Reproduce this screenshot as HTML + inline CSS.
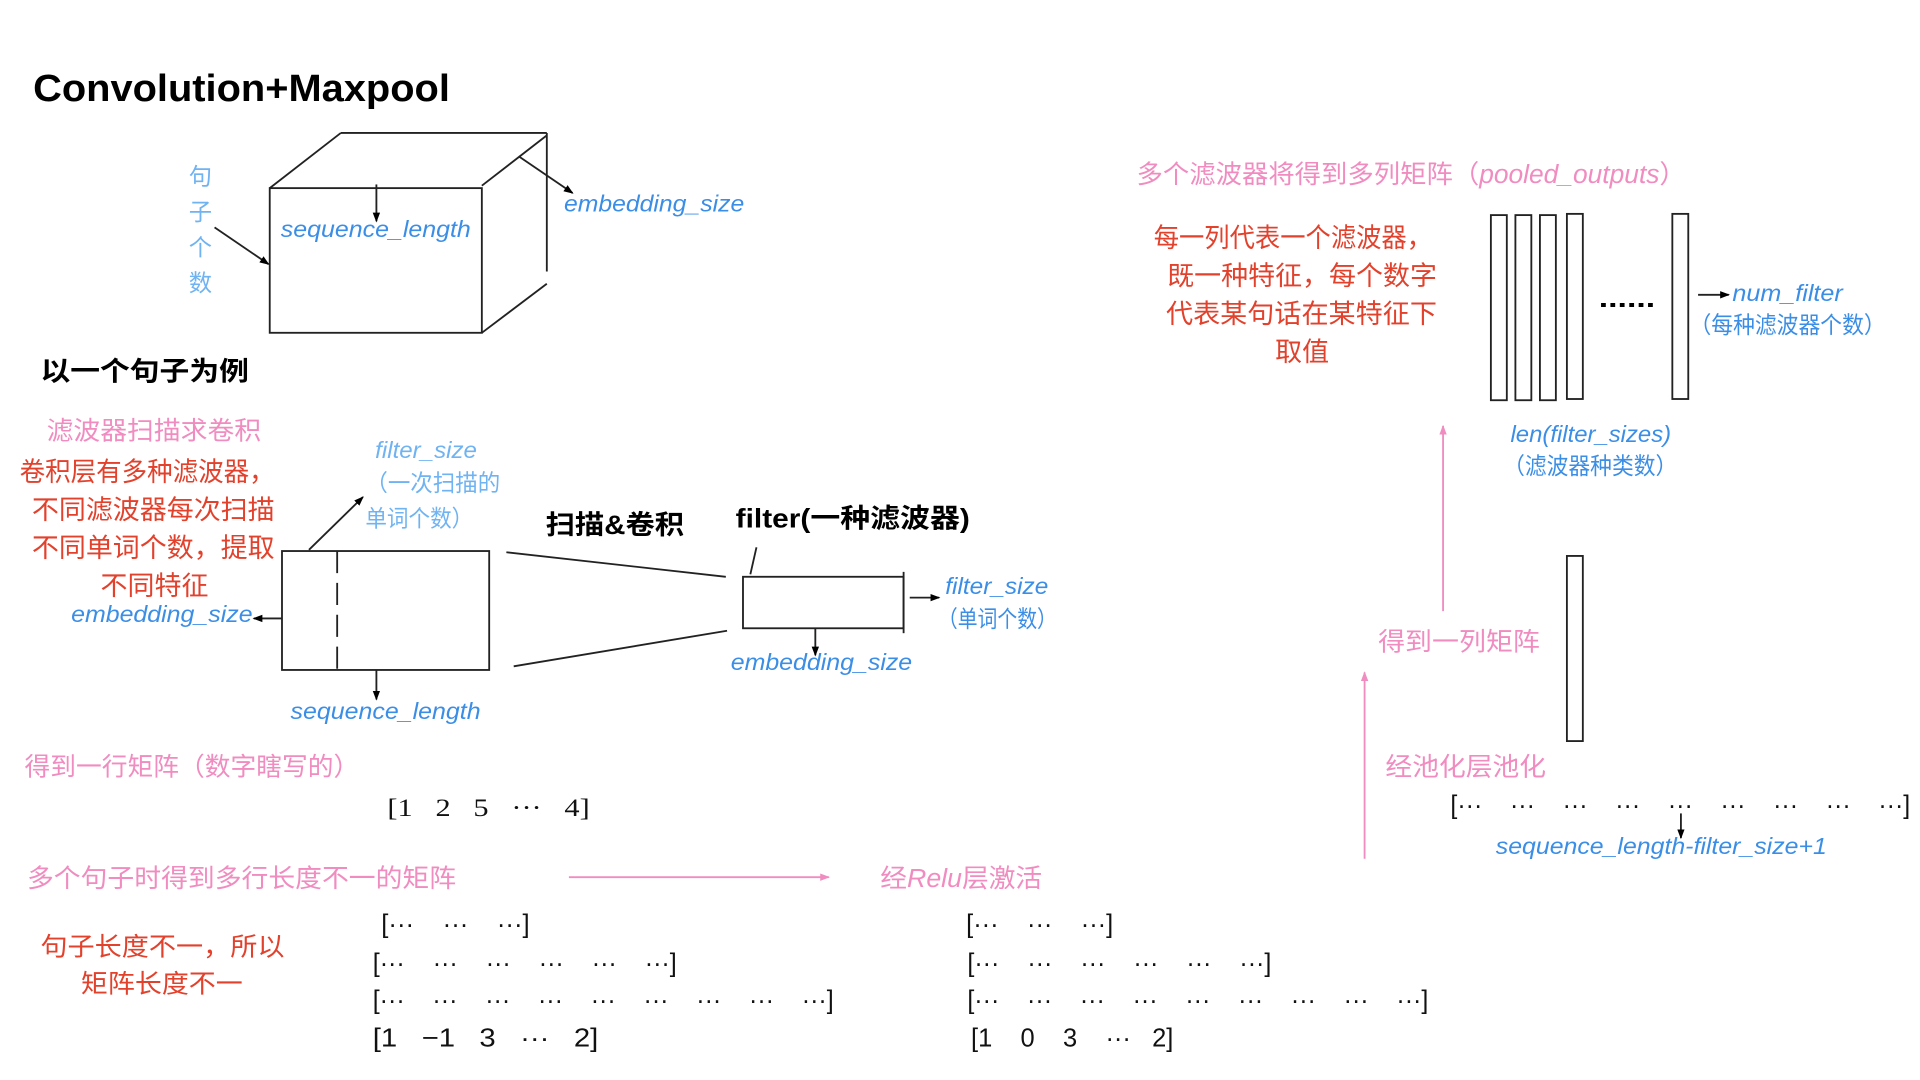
<!DOCTYPE html>
<html><head><meta charset="utf-8"><style>
html,body{margin:0;padding:0;background:#fff;width:1920px;height:1080px;overflow:hidden}
svg{display:block}
text{font-family:"Liberation Sans","Noto Sans CJK SC",sans-serif}
.b{fill:#3b8ee6}
.i{font-style:italic}
.lb{fill:#6fb3f2}
.p{fill:#f08cc0}
.r{fill:#e2412c}
.m{font-family:"Liberation Serif",serif;font-size:21px;fill:#111}
</style></head><body>
<svg width="1920" height="1080" viewBox="0 0 1566 880" xmlns="http://www.w3.org/2000/svg">
<defs>
<marker id="a" markerWidth="8" markerHeight="8" refX="7" refY="4" orient="auto" markerUnits="userSpaceOnUse"><path d="M0,1 L8,4 L0,7 z" fill="#000"/></marker>
<marker id="ap" markerWidth="8" markerHeight="8" refX="7" refY="4" orient="auto" markerUnits="userSpaceOnUse"><path d="M0,1 L8,4 L0,7 z" fill="#f08cc0"/></marker>
</defs>
<g stroke="#222" stroke-width="1.5" fill="none">
<rect x="220" y="153" width="173" height="118"/>
<line x1="278" y1="108" x2="446" y2="108"/>
<line x1="220" y1="153" x2="278" y2="108"/>
<line x1="393" y1="151" x2="446" y2="110"/>
<line x1="446" y1="108" x2="446" y2="221"/>
<line x1="393" y1="271" x2="446" y2="231"/>
<line x1="307" y1="150" x2="307" y2="180" marker-end="url(#a)"/>
<line x1="423" y1="127" x2="467" y2="157" marker-end="url(#a)"/>
<line x1="175" y1="185" x2="219" y2="215" marker-end="url(#a)"/>
<rect x="230" y="449" width="169" height="97"/>
<line x1="275" y1="449" x2="275" y2="550" stroke-dasharray="18,8"/>
<line x1="230" y1="504" x2="207" y2="504" marker-end="url(#a)"/>
<line x1="307" y1="546" x2="307" y2="570" marker-end="url(#a)"/>
<line x1="252" y1="448" x2="296" y2="405" marker-end="url(#a)"/>
<line x1="413" y1="450" x2="592" y2="470"/>
<line x1="419" y1="543" x2="593" y2="514"/>
<line x1="617" y1="446" x2="612" y2="468"/>
<rect x="606" y="470" width="131" height="42"/>
<line x1="737" y1="466" x2="737" y2="516"/>
<line x1="742" y1="487" x2="766" y2="487" marker-end="url(#a)"/>
<line x1="665" y1="512" x2="665" y2="534" marker-end="url(#a)"/>
<rect x="1216" y="175" width="13" height="151"/>
<rect x="1236" y="175" width="13" height="151"/>
<rect x="1256" y="175" width="13" height="151"/>
<rect x="1278" y="174" width="13" height="151"/>
<rect x="1364" y="174" width="13" height="151"/>
<rect x="1278" y="453" width="13" height="151"/>
<line x1="1385" y1="240" x2="1410" y2="240" marker-end="url(#a)"/>
<line x1="1371" y1="663" x2="1371" y2="683" marker-end="url(#a)"/>
</g>
<g stroke="#f08cc0" stroke-width="1.5">
<line x1="464" y1="715" x2="676" y2="715" marker-end="url(#ap)"/>
<line x1="1113" y1="700" x2="1113" y2="548" marker-end="url(#ap)"/>
<line x1="1177" y1="498" x2="1177" y2="347" marker-end="url(#ap)"/>
</g>
<g lengthAdjust="spacingAndGlyphs">
<text x="27" y="82" font-size="31" font-weight="bold" textLength="340" lengthAdjust="spacingAndGlyphs">Convolution+Maxpool</text>
<text x="229" y="193" font-size="19" class="b i" textLength="155" lengthAdjust="spacingAndGlyphs">sequence_length</text>
<text x="460" y="172" font-size="19" class="b i" textLength="147" lengthAdjust="spacingAndGlyphs">embedding_size</text>
<g class="lb" font-size="19"><text x="154" y="150">句</text><text x="154" y="179">子</text><text x="154" y="208">个</text><text x="154" y="237">数</text></g>
<text x="33" y="310" font-size="22" font-weight="bold" textLength="170" lengthAdjust="spacingAndGlyphs">以一个句子为例</text>
<text x="38" y="358" font-size="21" class="p" textLength="175" lengthAdjust="spacingAndGlyphs">滤波器扫描求卷积</text>
<g class="r" font-size="22">
<text x="16" y="392" textLength="208" lengthAdjust="spacingAndGlyphs">卷积层有多种滤波器，</text>
<text x="26" y="423" textLength="198" lengthAdjust="spacingAndGlyphs">不同滤波器每次扫描</text>
<text x="26" y="454" textLength="198" lengthAdjust="spacingAndGlyphs">不同单词个数，提取</text>
<text x="82" y="485" textLength="88" lengthAdjust="spacingAndGlyphs">不同特征</text>
</g>
<text x="58" y="507" font-size="19" class="b i" textLength="148" lengthAdjust="spacingAndGlyphs">embedding_size</text>
<text x="237" y="586" font-size="19" class="b i" textLength="155" lengthAdjust="spacingAndGlyphs">sequence_length</text>
<text x="306" y="373" font-size="19" class="lb i" textLength="83" lengthAdjust="spacingAndGlyphs">filter_size</text>
<text x="298" y="400" font-size="19" class="lb" textLength="110" lengthAdjust="spacingAndGlyphs">（一次扫描的</text>
<text x="298" y="429" font-size="19" class="lb" textLength="88" lengthAdjust="spacingAndGlyphs">单词个数）</text>
<text x="445" y="435" font-size="22" font-weight="bold" textLength="113" lengthAdjust="spacingAndGlyphs">扫描&amp;卷积</text>
<text x="600" y="430" font-size="22" font-weight="bold" textLength="191" lengthAdjust="spacingAndGlyphs">filter(一种滤波器)</text>
<text x="771" y="484" font-size="19" class="b i" textLength="84" lengthAdjust="spacingAndGlyphs">filter_size</text>
<text x="765" y="511" font-size="19" class="b" textLength="97" lengthAdjust="spacingAndGlyphs">（单词个数）</text>
<text x="596" y="546" font-size="19" class="b i" textLength="148" lengthAdjust="spacingAndGlyphs">embedding_size</text>
<text x="20" y="632" font-size="21" class="p" textLength="273" lengthAdjust="spacingAndGlyphs">得到一行矩阵（数字瞎写的）</text>
<text x="316" y="665" class="m" xml:space="preserve" textLength="165" lengthAdjust="spacingAndGlyphs">[1   2   5   ···   4]</text>
<text x="22" y="723" font-size="21" class="p" textLength="350" lengthAdjust="spacingAndGlyphs">多个句子时得到多行长度不一的矩阵</text>
<text x="718" y="723" font-size="21" class="p" textLength="132" lengthAdjust="spacingAndGlyphs">经<tspan font-style="italic">Relu</tspan>层激活</text>
<text x="33" y="779" font-size="21" class="r" textLength="199" lengthAdjust="spacingAndGlyphs">句子长度不一，所以</text>
<text x="66" y="809" font-size="21" class="r" textLength="132" lengthAdjust="spacingAndGlyphs">矩阵长度不一</text>
<g class="m">
<text x="311" y="760" xml:space="preserve" textLength="121" lengthAdjust="spacingAndGlyphs">[···    ···    ···]</text>
<text x="304" y="792" xml:space="preserve" textLength="248" lengthAdjust="spacingAndGlyphs">[···    ···    ···    ···    ···    ···]</text>
<text x="304" y="822" xml:space="preserve" textLength="376" lengthAdjust="spacingAndGlyphs">[···    ···    ···    ···    ···    ···    ···    ···    ···]</text>
<text x="304" y="853" xml:space="preserve" textLength="184" lengthAdjust="spacingAndGlyphs">[1   −1   3   ···   2]</text>
<text x="788" y="760" xml:space="preserve" textLength="120" lengthAdjust="spacingAndGlyphs">[···    ···    ···]</text>
<text x="789" y="792" xml:space="preserve" textLength="248" lengthAdjust="spacingAndGlyphs">[···    ···    ···    ···    ···    ···]</text>
<text x="789" y="822" xml:space="preserve" textLength="376" lengthAdjust="spacingAndGlyphs">[···    ···    ···    ···    ···    ···    ···    ···    ···]</text>
<text x="792" y="853" xml:space="preserve" textLength="165" lengthAdjust="spacingAndGlyphs">[1    0    3    ···   2]</text>
<text x="1183" y="663" xml:space="preserve" textLength="375" lengthAdjust="spacingAndGlyphs">[···    ···    ···    ···    ···    ···    ···    ···    ···]</text>
</g>
<text x="1124" y="530" font-size="21" class="p" textLength="132" lengthAdjust="spacingAndGlyphs">得到一列矩阵</text>
<text x="1130" y="632" font-size="21" class="p" textLength="131" lengthAdjust="spacingAndGlyphs">经池化层池化</text>
<text x="1220" y="696" font-size="19" class="b i" textLength="270" lengthAdjust="spacingAndGlyphs">sequence_length-filter_size+1</text>
<text x="927" y="149" font-size="21" class="p" textLength="448" lengthAdjust="spacingAndGlyphs">多个滤波器将得到多列矩阵（<tspan font-style="italic">pooled_outputs</tspan>）</text>
<g class="r" font-size="22">
<text x="941" y="201" textLength="227" lengthAdjust="spacingAndGlyphs">每一列代表一个滤波器，</text>
<text x="952" y="232" textLength="220" lengthAdjust="spacingAndGlyphs">既一种特征，每个数字</text>
<text x="951" y="263" textLength="221" lengthAdjust="spacingAndGlyphs">代表某句话在某特征下</text>
<text x="1040" y="294" textLength="44" lengthAdjust="spacingAndGlyphs">取值</text>
</g>
<text x="1304" y="250" font-size="22" font-weight="bold" textLength="46" lengthAdjust="spacingAndGlyphs">......</text>
<text x="1413" y="245" font-size="19" class="b i" textLength="90" lengthAdjust="spacingAndGlyphs">num_filter</text>
<text x="1378" y="271" font-size="19" class="b" textLength="160" lengthAdjust="spacingAndGlyphs">（每种滤波器个数）</text>
<text x="1232" y="360" font-size="19" class="b i" textLength="131" lengthAdjust="spacingAndGlyphs">len(filter_sizes)</text>
<text x="1226" y="386" font-size="19" class="b" textLength="142" lengthAdjust="spacingAndGlyphs">（滤波器种类数）</text>
</g>
</svg>
</body></html>
